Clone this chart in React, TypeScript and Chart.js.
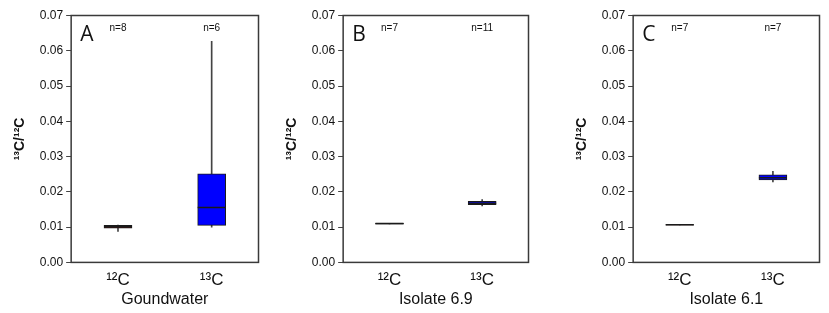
import React, { useEffect, useRef } from 'react';
import { Chart, registerables } from 'chart.js';

Chart.register(...registerables);

// ---- data ----
const categories = ['¹²C', '¹³C'];
const panelLetters = ['A', 'B', 'C'];
const panelTitles = ['Goundwater', 'Isolate 6.9', 'Isolate 6.1'];
const sampleCounts = [[8, 6], [7, 11], [7, 7]];
const whiskerLow = [[0.0088, 0.0100], [0.0109, 0.0160], [0.0106, 0.0228]];
const q1 = [[0.0097, 0.0105], [0.01085, 0.0164], [0.01055, 0.0234]];
const medians = [[0.0101, 0.0156], [0.0110, 0.0168], [0.0107, 0.0240]];
const q3 = [[0.0105, 0.0251], [0.01105, 0.0173], [0.01075, 0.0248]];
const whiskerHigh = [[0.0106, 0.0627], [0.0111, 0.0178], [0.0108, 0.0258]];
const yTicks = [0, 0.01, 0.02, 0.03, 0.04, 0.05, 0.06, 0.07];
const boxColors = ['#5a0a0a', '#0000ff'];

const panelBoxes = [
  { left: 0, width: 274 },
  { left: 272, width: 272 },
  { left: 562, width: 273 },
];

const FONT = '"Liberation Sans", Arial, sans-serif';

function Panel({ idx }: { idx: number }) {
  const ref = useRef<HTMLCanvasElement | null>(null);
  useEffect(() => {
    if (!ref.current) return;
    const annot = {
      id: 'annot',
      afterDraw(chart: any) {
        const { ctx, chartArea } = chart;
        ctx.save();
        ctx.strokeStyle = '#3a3a3a';
        ctx.lineWidth = 1.5;
        ctx.strokeRect(chartArea.left, chartArea.top, chartArea.right - chartArea.left, chartArea.bottom - chartArea.top);
        ctx.fillStyle = '#111';
        ctx.font = '21px "Open Sans", "Liberation Sans", sans-serif';
        ctx.textAlign = 'left';
        ctx.textBaseline = 'alphabetic';
        ctx.fillText(panelLetters[idx], chartArea.left + 9, chartArea.top + 25);
        ctx.font = '10px ' + FONT;
        ctx.textAlign = 'center';
        ctx.textBaseline = 'middle';
        const xs = chart.scales.x;
        sampleCounts[idx].forEach((n, i) => {
          ctx.fillText('n=' + n, xs.getPixelForValue(i), chartArea.top + 13);
        });
        ctx.restore();
      },
    };
    const chart = new Chart(ref.current, {
      type: 'bar',
      data: {
        labels: categories,
        datasets: [
          {
            type: 'line',
            data: medians[idx],
            showLine: false,
            pointStyle: 'line',
            pointRadius: 14,
            pointHoverRadius: 14,
            pointBorderWidth: 1.5,
            pointBorderColor: '#1a1a1a',
            borderColor: '#1a1a1a',
            order: 0,
          } as any,
          {
            type: 'bar',
            data: q1[idx].map((v, i) => [v, q3[idx][i]]),
            backgroundColor: boxColors,
            borderColor: '#1a1a1a',
            borderWidth: 1,
            borderSkipped: false,
            barThickness: 28,
            grouped: false,
            order: 1,
          } as any,
          {
            type: 'bar',
            data: whiskerLow[idx].map((v, i) => [v, whiskerHigh[idx][i]]),
            backgroundColor: '#444',
            borderWidth: 0,
            barThickness: 1,
            grouped: false,
            order: 2,
          } as any,
        ],
      },
      options: {
        responsive: false,
        animation: false,
        layout: { padding: { left: 12, right: 8, top: 5, bottom: 4 } },
        plugins: { legend: { display: false }, tooltip: { enabled: false } },
        scales: {
          x: {
            offset: true,
            grid: { display: false, drawTicks: false, tickLength: 0 },
            border: { display: false },
            ticks: { color: '#111', font: { family: FONT, size: 17 }, padding: 8 },
            title: {
              display: true,
              text: panelTitles[idx],
              color: '#111',
              font: { family: FONT, size: 16 },
              padding: { top: -9, bottom: 0 },
            },
          },
          y: {
            min: 0,
            max: 0.07,
            afterBuildTicks: (axis: any) => {
              axis.ticks = yTicks.map((v) => ({ value: v }));
            },
            grid: { display: true, drawOnChartArea: false, drawTicks: true, tickLength: 5, color: '#444' },
            border: { display: false },
            ticks: {
              color: '#111',
              font: { family: FONT, size: 12 },
              padding: 3,
              callback: (v: any) => Number(v).toFixed(2),
            },
            title: {
              display: true,
              text: '¹³C/¹²C',
              color: '#111',
              font: { family: FONT, size: 14, weight: 'bold' },
              padding: { top: 0, bottom: 8 },
            },
          },
        },
      },
      plugins: [annot],
    } as any);
    return () => chart.destroy();
  }, [idx]);
  const b = panelBoxes[idx];
  return (
    <canvas
      ref={ref}
      width={b.width}
      height={313}
      style={{ position: 'absolute', left: b.left, top: 0, width: b.width, height: 313 }}
    />
  );
}

export default function App() {
  return (
    <div style={{ position: 'fixed', left: 0, top: 0, width: 829, height: 313, background: '#fff', overflow: 'hidden' }}>
      {[0, 1, 2].map((i) => (
        <Panel key={i} idx={i} />
      ))}
    </div>
  );
}
